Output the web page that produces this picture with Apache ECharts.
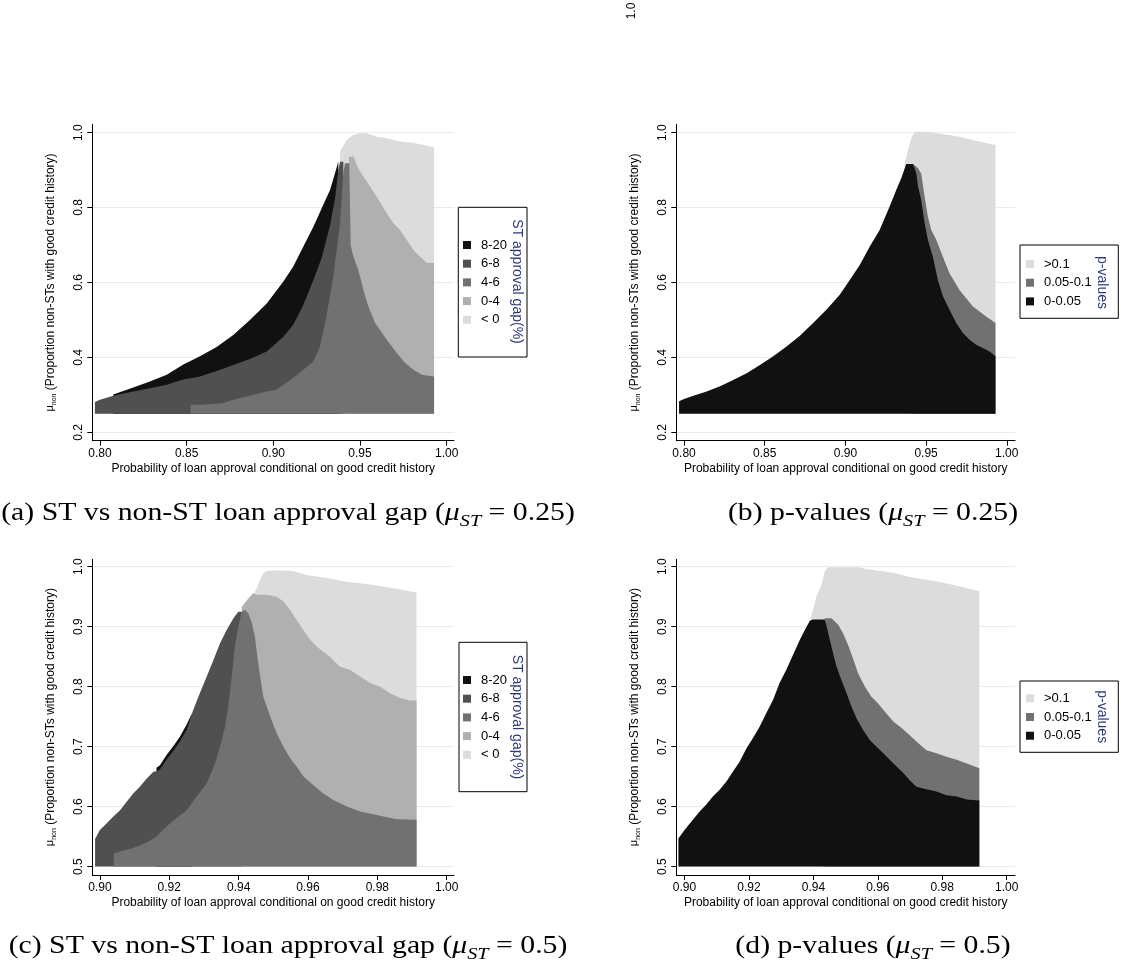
<!DOCTYPE html>
<html>
<head>
<meta charset="utf-8">
<script src="https://cdn.jsdelivr.net/npm/echarts@6/dist/echarts.min.js"></script>
<style>
  html, body { margin: 0; padding: 0; background: #fff; }
  #chart { width: 1121px; height: 980px; }
</style>
</head>
<body>
<div id="chart"></div>
<script>
// category names and tick values
const gapNames = ['8-20', '6-8', '4-6', '0-4', '< 0'];
const pNames = ['>0.1', '0.05-0.1', '0-0.05'];
const xTicksTop = [0.80, 0.85, 0.90, 0.95, 1.00];
const yTicksTop = [0.2, 0.4, 0.6, 0.8, 1.0];
const xTicksBottom = [0.90, 0.92, 0.94, 0.96, 0.98, 1.00];
const yTicksBottom = [0.5, 0.6, 0.7, 0.8, 0.9, 1.0];
const floorTop = 0.25;     // mu_ST = 0.25 grid starts here
const floorBottom = 0.5;   // mu_ST = 0.5

// (a) upper edge of each gap band
const aLt0X = [0.9385, 0.9404, 0.9423, 0.9462, 0.9500, 0.9538, 0.9596, 0.9654, 0.9731, 0.9808, 0.9865, 0.9927];
const aLt0Y = [0.949, 0.965, 0.980, 0.994, 0.998, 0.998, 0.989, 0.985, 0.976, 0.973, 0.967, 0.961];
const a04X = [0.9436, 0.9462, 0.9490, 0.9519, 0.9558, 0.9596, 0.9654, 0.9692, 0.9731, 0.9769, 0.9808, 0.9846, 0.9885, 0.9927];
const a04Y = [0.935, 0.936, 0.905, 0.883, 0.856, 0.829, 0.785, 0.758, 0.740, 0.714, 0.687, 0.669, 0.653, 0.652];
const a820X = [0.8077, 0.8192, 0.8288, 0.8385, 0.8481, 0.8577, 0.8673, 0.8769, 0.8865, 0.8962, 0.9058, 0.9115, 0.9173, 0.9231, 0.9279, 0.9327, 0.9356, 0.9375, 0.9385];
const a820Y = [0.301, 0.320, 0.336, 0.354, 0.381, 0.403, 0.428, 0.460, 0.500, 0.544, 0.603, 0.643, 0.696, 0.749, 0.798, 0.847, 0.892, 0.923, 0.923];
const a68X = [0.7971, 0.8000, 0.8077, 0.8192, 0.8288, 0.8385, 0.8481, 0.8577, 0.8673, 0.8769, 0.8865, 0.8962, 0.9058, 0.9115, 0.9173, 0.9231, 0.9279, 0.9327, 0.9356, 0.9375, 0.9385, 0.9404];
const a68Y = [0.281, 0.287, 0.298, 0.309, 0.318, 0.327, 0.341, 0.349, 0.364, 0.380, 0.396, 0.416, 0.455, 0.487, 0.540, 0.607, 0.666, 0.753, 0.825, 0.900, 0.922, 0.922];
const a46X = [0.8523, 0.8577, 0.8710, 0.8769, 0.8865, 0.8962, 0.9019, 0.9058, 0.9115, 0.9173, 0.9231, 0.9269, 0.9298, 0.9327, 0.9346, 0.9365, 0.9385, 0.9394, 0.9404, 0.9413, 0.9438, 0.9446, 0.9462, 0.9490, 0.9519, 0.9548, 0.9587, 0.9654, 0.9712, 0.9760, 0.9808, 0.9856, 0.9927];
const a46Y = [0.274, 0.274, 0.278, 0.287, 0.298, 0.309, 0.314, 0.327, 0.345, 0.367, 0.389, 0.429, 0.491, 0.563, 0.616, 0.687, 0.758, 0.829, 0.892, 0.918, 0.918, 0.700, 0.669, 0.634, 0.581, 0.536, 0.492, 0.447, 0.412, 0.385, 0.367, 0.354, 0.349];

// (b) upper edge of each p-value band
const bGt01X = [0.9367, 0.9388, 0.9408, 0.9429, 0.9501, 0.9563, 0.9635, 0.9707, 0.9790, 0.9862, 0.9930];
const bGt01Y = [0.916, 0.954, 0.985, 1.002, 1.002, 0.998, 0.994, 0.989, 0.980, 0.973, 0.967];
const b0501X = [0.9419, 0.9450, 0.9470, 0.9491, 0.9511, 0.9532, 0.9563, 0.9604, 0.9645, 0.9707, 0.9790, 0.9872, 0.9930];
const b0501Y = [0.916, 0.905, 0.890, 0.829, 0.776, 0.740, 0.714, 0.669, 0.625, 0.580, 0.536, 0.509, 0.492];
const b005X = [0.7969, 0.8000, 0.8058, 0.8140, 0.8223, 0.8305, 0.8388, 0.8470, 0.8553, 0.8635, 0.8718, 0.8800, 0.8882, 0.8965, 0.9027, 0.9089, 0.9151, 0.9212, 0.9274, 0.9315, 0.9346, 0.9377, 0.9419, 0.9439, 0.9450, 0.9470, 0.9491, 0.9511, 0.9542, 0.9573, 0.9604, 0.9645, 0.9687, 0.9728, 0.9769, 0.9810, 0.9852, 0.9893, 0.9930];
const b005Y = [0.283, 0.289, 0.298, 0.309, 0.323, 0.340, 0.358, 0.380, 0.403, 0.429, 0.458, 0.492, 0.527, 0.567, 0.607, 0.647, 0.696, 0.740, 0.803, 0.847, 0.878, 0.916, 0.916, 0.892, 0.856, 0.820, 0.758, 0.714, 0.669, 0.607, 0.563, 0.527, 0.492, 0.465, 0.447, 0.434, 0.425, 0.416, 0.403];

// (c) upper edge of each gap band
const cLt0X = [0.9447, 0.9452, 0.9462, 0.9471, 0.9481, 0.9510, 0.9558, 0.9596, 0.9654, 0.9712, 0.9769, 0.9846, 0.9913];
const cLt0Y = [0.958, 0.964, 0.978, 0.989, 0.993, 0.994, 0.993, 0.986, 0.981, 0.975, 0.971, 0.964, 0.957];
const c04X = [0.9409, 0.9428, 0.9442, 0.9452, 0.9481, 0.9510, 0.9529, 0.9548, 0.9567, 0.9587, 0.9606, 0.9625, 0.9644, 0.9663, 0.9692, 0.9721, 0.9750, 0.9779, 0.9808, 0.9837, 0.9865, 0.9894, 0.9913];
const c04Y = [0.933, 0.947, 0.956, 0.953, 0.953, 0.950, 0.942, 0.928, 0.911, 0.894, 0.878, 0.867, 0.858, 0.850, 0.833, 0.828, 0.817, 0.806, 0.800, 0.789, 0.781, 0.777, 0.777];
const c820X = [0.9163, 0.9173, 0.9192, 0.9212, 0.9231, 0.9250, 0.9265];
const c820Y = [0.665, 0.669, 0.686, 0.701, 0.717, 0.737, 0.755];
const c68X = [0.8986, 0.9000, 0.9019, 0.9038, 0.9058, 0.9077, 0.9096, 0.9115, 0.9135, 0.9154, 0.9163, 0.9173, 0.9192, 0.9212, 0.9231, 0.9250, 0.9269, 0.9288, 0.9308, 0.9327, 0.9346, 0.9365, 0.9385, 0.9399, 0.9409];
const c68Y = [0.546, 0.561, 0.572, 0.583, 0.594, 0.608, 0.622, 0.633, 0.647, 0.658, 0.659, 0.662, 0.678, 0.693, 0.709, 0.728, 0.761, 0.789, 0.817, 0.844, 0.872, 0.894, 0.914, 0.925, 0.925];
const c46X = [0.9040, 0.9058, 0.9096, 0.9135, 0.9163, 0.9192, 0.9221, 0.9250, 0.9279, 0.9308, 0.9332, 0.9346, 0.9361, 0.9370, 0.9380, 0.9389, 0.9399, 0.9409, 0.9418, 0.9428, 0.9438, 0.9447, 0.9454, 0.9462, 0.9471, 0.9481, 0.9495, 0.9510, 0.9529, 0.9548, 0.9567, 0.9587, 0.9615, 0.9644, 0.9673, 0.9712, 0.9750, 0.9798, 0.9856, 0.9913];
const c46Y = [0.522, 0.525, 0.531, 0.540, 0.550, 0.567, 0.581, 0.594, 0.617, 0.639, 0.672, 0.700, 0.733, 0.767, 0.817, 0.867, 0.900, 0.925, 0.928, 0.922, 0.906, 0.883, 0.850, 0.817, 0.783, 0.767, 0.744, 0.722, 0.700, 0.681, 0.667, 0.650, 0.636, 0.622, 0.611, 0.600, 0.592, 0.586, 0.579, 0.578];

// (d) upper edge of each p-value band
const dGt01X = [0.9391, 0.9399, 0.9409, 0.9425, 0.9435, 0.9446, 0.9544, 0.9565, 0.9606, 0.9648, 0.9699, 0.9751, 0.9803, 0.9855, 0.9915];
const dGt01Y = [0.914, 0.928, 0.950, 0.969, 0.992, 0.999, 0.999, 0.996, 0.993, 0.990, 0.983, 0.978, 0.973, 0.967, 0.959];
const d0501X = [0.9435, 0.9456, 0.9477, 0.9492, 0.9508, 0.9523, 0.9539, 0.9560, 0.9580, 0.9601, 0.9622, 0.9648, 0.9674, 0.9699, 0.9725, 0.9751, 0.9782, 0.9813, 0.9845, 0.9876, 0.9915];
const d0501Y = [0.914, 0.914, 0.903, 0.889, 0.869, 0.847, 0.822, 0.800, 0.783, 0.772, 0.758, 0.742, 0.731, 0.719, 0.706, 0.694, 0.689, 0.683, 0.678, 0.672, 0.664];
const d005X = [0.8981, 0.9000, 0.9026, 0.9047, 0.9067, 0.9088, 0.9109, 0.9130, 0.9150, 0.9171, 0.9192, 0.9212, 0.9233, 0.9254, 0.9275, 0.9295, 0.9316, 0.9337, 0.9358, 0.9373, 0.9389, 0.9399, 0.9435, 0.9440, 0.9451, 0.9461, 0.9472, 0.9487, 0.9503, 0.9518, 0.9534, 0.9554, 0.9575, 0.9596, 0.9617, 0.9637, 0.9658, 0.9679, 0.9699, 0.9720, 0.9751, 0.9782, 0.9813, 0.9845, 0.9876, 0.9915];
const d005Y = [0.547, 0.561, 0.578, 0.592, 0.603, 0.617, 0.628, 0.642, 0.658, 0.675, 0.697, 0.714, 0.733, 0.756, 0.778, 0.806, 0.828, 0.853, 0.878, 0.894, 0.910, 0.912, 0.912, 0.903, 0.878, 0.856, 0.833, 0.811, 0.789, 0.767, 0.747, 0.728, 0.711, 0.700, 0.689, 0.678, 0.667, 0.656, 0.644, 0.633, 0.629, 0.625, 0.619, 0.617, 0.612, 0.610];

const SANS = 'Liberation Sans';
const SERIF = 'Liberation Serif';
const colors = {
  '8-20': '#111111', '6-8': '#505050', '4-6': '#717171', '0-4': '#b0b0b0', '< 0': '#dcdcdc',
  '>0.1': '#dcdcdc', '0.05-0.1': '#717171', '0-0.05': '#111111'
};

const chart = echarts.init(document.getElementById('chart'));

// each band is filled from its upper edge down to the floor; drawn top band first
function band(name, xs, ys, idx, floor) {
  return {
    type: 'line',
    name: name,
    xAxisIndex: idx,
    yAxisIndex: idx,
    data: xs.map((x, i) => [x, ys[i]]),
    symbol: 'none',
    silent: true,
    color: colors[name],
    lineStyle: { width: 0 },
    areaStyle: { color: colors[name], opacity: 1, origin: floor }
  };
}

function xAxis(idx, min, max, ticks) {
  return {
    type: 'value', gridIndex: idx, min: min, max: max,
    name: 'Probability of loan approval conditional on good credit history',
    nameLocation: 'middle', nameGap: 22,
    nameTextStyle: { fontFamily: SANS, fontSize: 12, color: '#000' },
    axisLine: { onZero: false, lineStyle: { color: '#000', width: 1 } },
    axisTick: { customValues: ticks, length: 5, lineStyle: { color: '#000' } },
    axisLabel: { customValues: ticks, margin: 7, fontFamily: SANS, fontSize: 12, color: '#000',
      formatter: v => v.toFixed(2) },
    splitLine: { show: false }
  };
}

function yAxis(idx, min, max, ticks) {
  return {
    type: 'value', gridIndex: idx, min: min, max: max,
    name: '{m|μ}{s|non} (Proportion non-STs with good credit history)',
    nameLocation: 'middle', nameGap: 35,
    nameTextStyle: { fontFamily: SANS, fontSize: 12, color: '#000',
      rich: { m: { fontFamily: SANS, fontSize: 11, color: '#000' },
              s: { fontFamily: SANS, fontSize: 7, color: '#000', verticalAlign: 'bottom', lineHeight: 14 } } },
    axisLine: { onZero: false, lineStyle: { color: '#000', width: 1 } },
    axisTick: { customValues: ticks, length: 5, lineStyle: { color: '#000' } },
    axisLabel: { customValues: ticks, rotate: 90, margin: 8, fontFamily: SANS, fontSize: 12, color: '#000',
      formatter: v => v.toFixed(1) },
    splitLine: { show: true, lineStyle: { color: '#e4edef', width: 1 } }
  };
}

function legend(names, left, top) {
  return {
    orient: 'vertical', left: left, top: top, padding: 0,
    icon: 'rect', itemWidth: 8, itemHeight: 8, itemGap: 4.7,
    selectedMode: false,
    data: names.map(n => ({ name: n, itemStyle: { color: colors[n] } })),
    textStyle: { fontFamily: SANS, fontSize: 13, lineHeight: 14, color: '#000', padding: [0, 0, 0, 5] }
  };
}

function box(x, y, w, h) {
  return { type: 'rect', shape: { x: x, y: y, width: w, height: h },
    style: { fill: null, stroke: '#000', lineWidth: 1 }, silent: true };
}

function sideTitle(text, x, y) {
  return { type: 'text', x: x, y: y, rotation: -Math.PI / 2, silent: true,
    style: { text: text, fontFamily: SANS, fontSize: 14, fill: '#2a3a78', align: 'center', verticalAlign: 'middle' } };
}

// LaTeX-style subfigure caption; Times widened to the Computer Modern width
function caption(text, x, y) {
  return { type: 'text', x: x, y: y, scaleX: 1.19, silent: true,
    style: { text: text, fontFamily: SERIF, fontSize: 25, fill: '#000', align: 'center', verticalAlign: 'middle',
      rich: { i: { fontFamily: SERIF, fontSize: 25, fontStyle: 'italic', fill: '#000' },
              s: { fontFamily: SERIF, fontSize: 17, fontStyle: 'italic', fill: '#000', verticalAlign: 'bottom', lineHeight: 34 } } } };
}

const option = {
  animation: false,
  backgroundColor: '#fff',
  grid: [
    { left: 92.3, top: 124.3, width: 361.7, height: 316.4 },
    { left: 676.3, top: 124.3, width: 338.7, height: 316.4 },
    { left: 92.3, top: 559.3, width: 361.7, height: 315.7 },
    { left: 676.3, top: 559.3, width: 338.7, height: 315.7 }
  ],
  xAxis: [
    xAxis(0, 0.7956, 1.0042, xTicksTop),
    xAxis(1, 0.7952, 1.0051, xTicksTop),
    xAxis(2, 0.8978, 1.0021, xTicksBottom),
    xAxis(3, 0.89745, 1.00258, xTicksBottom)
  ],
  yAxis: [
    yAxis(0, 0.178, 1.022, yTicksTop),
    yAxis(1, 0.178, 1.022, yTicksTop),
    yAxis(2, 0.486, 1.0123, yTicksBottom),
    yAxis(3, 0.486, 1.0123, yTicksBottom)
  ],
  legend: [
    legend(gapNames, 463, 238),
    legend(pNames, 1026, 257),
    legend(gapNames, 463, 673),
    legend(pNames, 1026, 691.3)
  ],
  series: [
    band('< 0', aLt0X, aLt0Y, 0, floorTop),
    band('0-4', a04X, a04Y, 0, floorTop),
    band('8-20', a820X, a820Y, 0, floorTop),
    band('6-8', a68X, a68Y, 0, floorTop),
    band('4-6', a46X, a46Y, 0, floorTop),

    band('>0.1', bGt01X, bGt01Y, 1, floorTop),
    band('0.05-0.1', b0501X, b0501Y, 1, floorTop),
    band('0-0.05', b005X, b005Y, 1, floorTop),

    band('< 0', cLt0X, cLt0Y, 2, floorBottom),
    band('0-4', c04X, c04Y, 2, floorBottom),
    band('8-20', c820X, c820Y, 2, floorBottom),
    band('6-8', c68X, c68Y, 2, floorBottom),
    band('4-6', c46X, c46Y, 2, floorBottom),

    band('>0.1', dGt01X, dGt01Y, 3, floorBottom),
    band('0.05-0.1', d0501X, d0501Y, 3, floorBottom),
    band('0-0.05', d005X, d005Y, 3, floorBottom)
  ],
  graphic: [
    box(458.3, 207.3, 68.7, 149.7),
    box(1020, 245, 98.3, 73.3),
    box(459, 642.3, 68, 149.4),
    box(1020, 681, 98.3, 71.3),
    sideTitle('ST approval gap(%)', 517, 281.5),
    sideTitle('p-values', 1101.7, 282.5),
    sideTitle('ST approval gap(%)', 517, 717),
    sideTitle('p-values', 1101.7, 716.7),
    caption('(a) ST vs non-ST loan approval gap ({i|μ}{s|ST} = 0.25)', 288, 513),
    caption('(b) p-values ({i|μ}{s|ST} = 0.25)', 873, 513),
    caption('(c) ST vs non-ST loan approval gap ({i|μ}{s|ST} = 0.5)', 288, 946),
    caption('(d) p-values ({i|μ}{s|ST} = 0.5)', 873, 946),
    { type: 'text', x: 632, y: 11, rotation: Math.PI / 2, silent: true,
      style: { text: '1.0', fontFamily: SANS, fontSize: 12, fill: '#000', align: 'center', verticalAlign: 'middle' } }
  ]
};

chart.setOption(option);
window.addEventListener('resize', () => chart.resize());
</script>
</body>
</html>
